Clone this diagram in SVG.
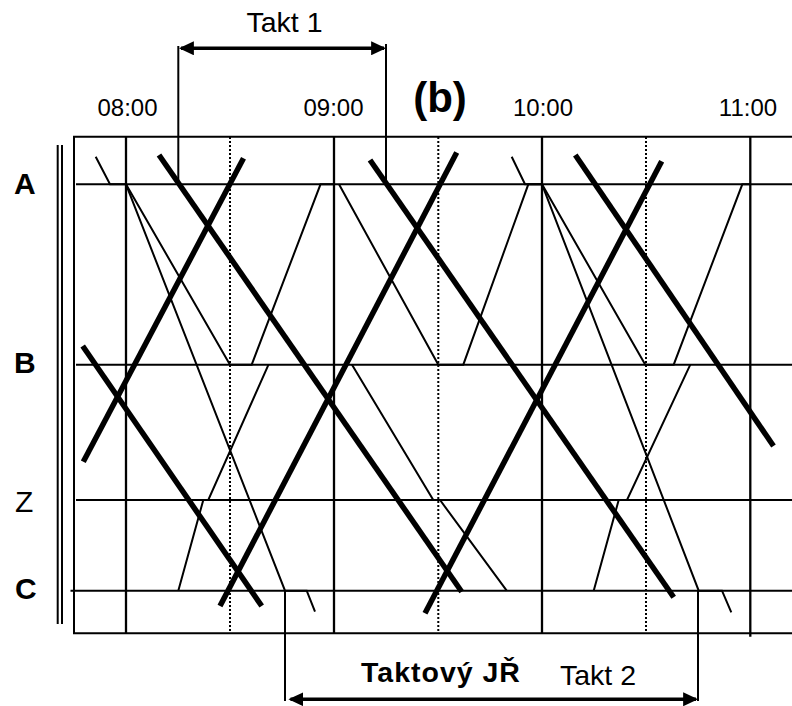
<svg xmlns="http://www.w3.org/2000/svg" width="792" height="706" viewBox="0 0 792 706">
<defs>
<style>
.g{stroke:#000;stroke-width:2;fill:none}
.h{stroke:#000;stroke-width:2.3;fill:none}
.dot{stroke:#000;stroke-width:2;stroke-dasharray:2 2;fill:none}
.tn{stroke:#000;stroke-width:2;fill:none;stroke-linejoin:miter}
.tk{stroke:#000;stroke-width:5.5;fill:none;stroke-linecap:butt}
.ar{stroke:#000;stroke-width:3.5;fill:none}
.t{font-family:"Liberation Sans",Arial,sans-serif;fill:#000}
.b{font-weight:bold}
</style>
<marker id="ah" markerUnits="userSpaceOnUse" markerWidth="15" markerHeight="14" refX="12" refY="6.5" orient="auto-start-reverse" viewBox="0 0 14 13">
<path d="M0,0 L14,6.5 L0,13 Z" fill="#000"/>
</marker>
</defs>
<rect width="792" height="706" fill="#fff"/>

<g id="grid">
<line class="g" x1="57.7" y1="145" x2="57.7" y2="624" stroke-width="1.6"/>
<line class="g" x1="62" y1="145" x2="62" y2="624" stroke-width="1.6"/>
<path class="g" d="M792,136.7 H74 V633.3 H792"/>
<line class="g" x1="76" y1="184.3" x2="792" y2="184.3"/>
<line class="g" x1="76" y1="364.7" x2="792" y2="364.7"/>
<line class="g" x1="76" y1="500" x2="792" y2="500"/>
<line class="g" x1="70.5" y1="590.7" x2="792" y2="590.7"/>
<line class="h" x1="126" y1="136.7" x2="126" y2="633.3"/>
<line class="h" x1="334" y1="136.7" x2="334" y2="633.3"/>
<line class="h" x1="542" y1="136.7" x2="542" y2="633.3"/>
<line class="h" x1="750.3" y1="136.7" x2="750.3" y2="636.7"/>
<line class="dot" x1="230" y1="137" x2="230" y2="633"/>
<line class="dot" x1="438.3" y1="137" x2="438.3" y2="633"/>
<line class="dot" x1="646" y1="137" x2="646" y2="633"/>
</g>

<g id="labels">
<text id="lbl-A" class="t b" x="14" y="194" font-size="30">A</text>
<text id="lbl-B" class="t b" x="14" y="373" font-size="30">B</text>
<text id="lbl-Z" class="t" x="15" y="511.5" font-size="30">Z</text>
<text id="lbl-C" class="t b" x="15" y="598.5" font-size="30">C</text>
<text class="t" x="127.5" y="115.7" font-size="24" text-anchor="middle">08:00</text>
<text class="t" x="333.5" y="115.7" font-size="24" text-anchor="middle">09:00</text>
<text class="t" x="543" y="115.7" font-size="24" text-anchor="middle">10:00</text>
<text class="t" x="748" y="115.7" font-size="24" text-anchor="middle">11:00</text>
<text class="t b" x="440" y="112" font-size="42" text-anchor="middle">(b)</text>
</g>

<g id="takt1">
<line class="g" x1="178.3" y1="46" x2="178.3" y2="184.3"/>
<line class="g" x1="386" y1="44" x2="386" y2="184.3"/>
<line class="ar" x1="181" y1="48.3" x2="384" y2="48.3" marker-start="url(#ah)" marker-end="url(#ah)"/>
<text class="t" x="284.5" y="32.3" font-size="28.5" text-anchor="middle">Takt 1</text>
</g>

<g id="takt2">
<line class="g" x1="285" y1="590.7" x2="285" y2="701"/>
<line class="g" x1="698" y1="590.7" x2="698" y2="701"/>
<line class="ar" x1="290.5" y1="699.3" x2="696" y2="699.3" marker-start="url(#ah)" marker-end="url(#ah)"/>
<text class="t b" x="361" y="682" font-size="28.5" letter-spacing="1">Taktový JŘ</text>
<text class="t" x="560" y="685" font-size="28.5">Takt 2</text>
</g>

<g id="connectors">
<polyline class="tn" points="95.7,156.7 110,184.3 126,184.3"/>
<polyline class="tn" points="126,184.3 285,590.7 306.7,590.7 315,611.7"/>
<polyline class="tn" points="126,184.3 230,364.7 251.7,364.7 320.5,184.3 334,184.3"/>
<polyline class="tn" points="178.3,590.7 203.3,500 208.3,500 268.5,364.7"/>
<polyline class="tn" points="339,184.3 438.3,364.7 463.3,364.7 528.3,184.3 542,184.3"/>
<polyline class="tn" points="352,364.7 433.3,500 440,500 506.7,590.7"/>
<polyline class="tn" points="511.7,156.7 525,184.3 542,184.3"/>
<polyline class="tn" points="542,184.3 698.7,590.7 722,590.7 731.3,612.3"/>
<polyline class="tn" points="542,184.3 645.3,364.7 673.7,364.7 742.3,184.3 750,184.3"/>
<polyline class="tn" points="593.7,590.7 618.7,500 627,500 690.3,364.7"/>
<line class="tk" x1="82.7" y1="346" x2="261.7" y2="606"/>
<line class="tk" x1="159" y1="155" x2="461.7" y2="591.7"/>
<line class="tk" x1="370" y1="160" x2="673.7" y2="597.3"/>
<line class="tk" x1="575.3" y1="155" x2="773.5" y2="446"/>
<line class="tk" x1="83.3" y1="461.7" x2="243.5" y2="158.3"/>
<line class="tk" x1="220" y1="606" x2="456.7" y2="152.5"/>
<line class="tk" x1="425" y1="613.3" x2="661.7" y2="161.3"/>
</g>
</svg>
